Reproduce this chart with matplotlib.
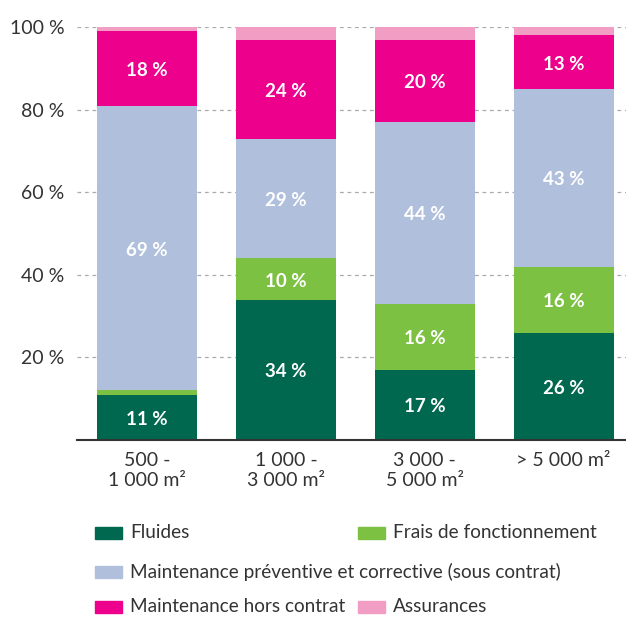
import matplotlib.pyplot as plt
import matplotlib.patches as mpatches
import numpy as np

plt.rcParams['font.family'] = ['Lato', 'DejaVu Sans']

# données : répartition des coûts par taille de bâtiment (%)
categories = ['500 -\n1 000 m²', '1 000 -\n3 000 m²', '3 000 -\n5 000 m²', '> 5 000 m²']
fluides = [11, 34, 17, 26]
frais = [1, 10, 16, 16]
maint_contrat = [69, 29, 44, 43]
maint_hors = [18, 24, 20, 13]
assurances = [1, 3, 3, 2]

series = [fluides, frais, maint_contrat, maint_hors, assurances]
names = ['Fluides', 'Frais de fonctionnement',
         'Maintenance préventive et corrective (sous contrat)',
         'Maintenance hors contrat', 'Assurances']
colors = ['#00684f', '#7dc142', '#b0bfdb', '#ec008c', '#f29ec4']
yticks = [20, 40, 60, 80, 100]

txt = '#333333'
fs = 13.7
fig = plt.figure(figsize=(6.26, 6.17), dpi=100)
ax = fig.add_axes([0.123, 0.287, 0.877, 0.669])

x = np.arange(len(categories))
bottom = np.zeros(len(categories))
for vals, col in zip(series, colors):
    vals = np.array(vals, dtype=float)
    ax.bar(x, vals, width=0.72, bottom=bottom, color=col, zorder=2)
    for xi, b, v in zip(x, bottom, vals):
        if v >= 10:
            ax.text(xi, b + v / 2 - 0.5, f'{int(v)} %', ha='center', va='center',
                    color='white', fontsize=13.5, fontweight='bold', zorder=3)
    bottom += vals

ax.set_xlim(-0.505, 3.45)
ax.set_ylim(0, 100)
ax.set_yticks(yticks)
ax.set_yticklabels([f'{t} %' for t in yticks], fontsize=14, color=txt)
ax.set_xticks(x)
ax.set_xticklabels(categories, fontsize=14, color=txt, va='top', linespacing=1.2)
ax.tick_params(axis='both', length=0)
ax.tick_params(axis='y', pad=9)
ax.tick_params(axis='x', pad=9)
ax.grid(axis='y', color='#aaaaaa', linestyle=(0, (3, 3)), linewidth=0.9, zorder=0)
for s in ['left', 'right', 'top']:
    ax.spines[s].set_visible(False)
ax.spines['bottom'].set_color('#333333')
ax.spines['bottom'].set_linewidth(1.5)
ax.spines['bottom'].set_zorder(4)

# légende en trois lignes
W, H = 626, 617
legend_pos = [(95, 533), (358, 533), (95, 572), (95, 607), (358, 607)]
for (px, py), name, col in zip(legend_pos, names, colors):
    fig.patches.append(mpatches.Rectangle(((px) / W, 1 - (py + 6) / H), 27 / W, 12 / H,
                                          color=col, transform=fig.transFigure))
    fig.text((px + 35) / W, 1 - py / H, name, fontsize=fs, color=txt,
             ha='left', va='center')

fig.savefig('out.png', dpi=100)
